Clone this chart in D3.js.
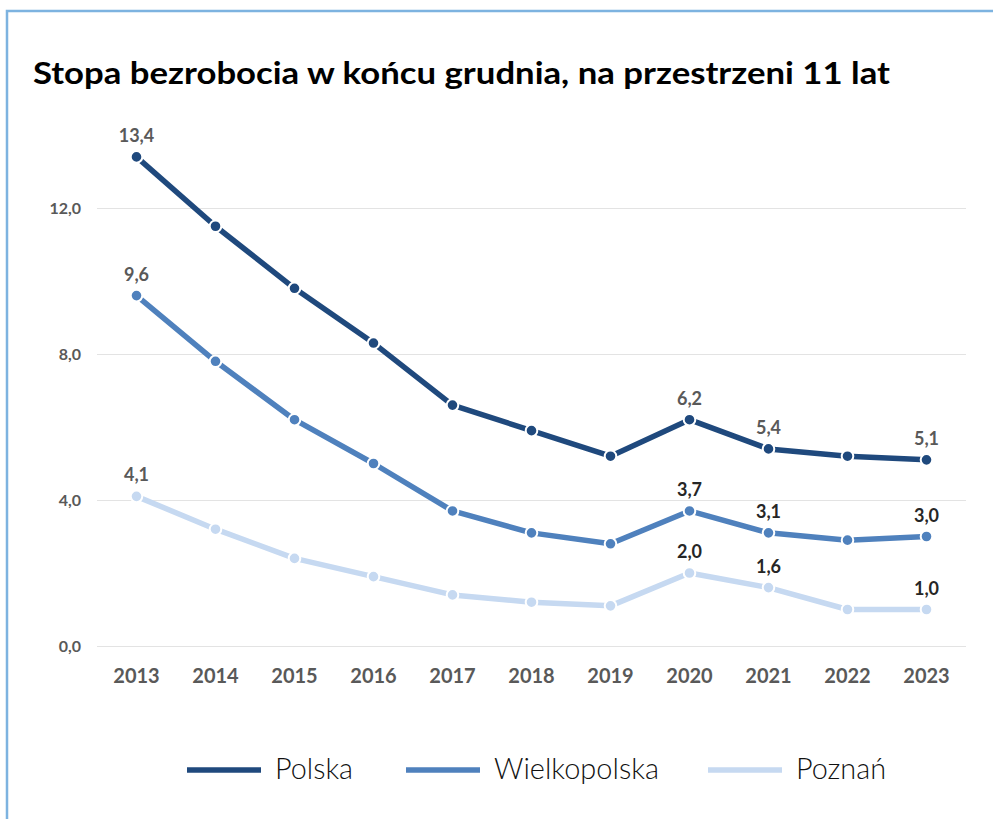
<!DOCTYPE html>
<html><head><meta charset="utf-8">
<script src="https://cdn.jsdelivr.net/npm/d3@7/dist/d3.min.js"></script>
<style>
html,body{margin:0;padding:0;background:#fff;}
svg{display:block;}
</style></head>
<body>
<svg id="c" width="993" height="819"></svg>
<script>
const years = ["2013","2014","2015","2016","2017","2018","2019","2020","2021","2022","2023"];
const polska = [13.4,11.5,9.8,8.3,6.6,5.9,5.2,6.2,5.4,5.2,5.1];
const wielkopolska = [9.6,7.8,6.2,5.0,3.7,3.1,2.8,3.7,3.1,2.9,3.0];
const poznan = [4.1,3.2,2.4,1.9,1.4,1.2,1.1,2.0,1.6,1.0,1.0];
const seriesNames = ["Polska","Wielkopolska","Poznań"];
const yTicks = [0,4,8,12];
const labelledYears = ["2013","2020","2021","2023"];

const colors = ["#1F497D","#4F81BD","#C6D9F1"];
const labelColors = [["#595959","#595959","#595959","#595959"],["#595959","#262626","#262626","#262626"],["#595959","#262626","#262626","#262626"]];
const font = "Lato, 'Open Sans', sans-serif";

const svg = d3.select("#c");
svg.append("path").attr("d","M7,819 L7,11 L993,11").attr("fill","none").attr("stroke","#7DB3E0").attr("stroke-width",2.5);

svg.append("text").attr("x",33).attr("y",84).attr("font-family",font).attr("font-weight",700)
  .attr("font-size",30).attr("fill","#000").text("Stopa bezrobocia w końcu grudnia, na przestrzeni 11 lat")
  .attr("textLength",857).attr("lengthAdjust","spacingAndGlyphs");

const x = d3.scaleBand().domain(years).range([97,966]);
const y = d3.scaleLinear().domain([0,12]).range([646,208]);

const gy = svg.append("g").attr("transform","translate(97,0)")
  .call(d3.axisLeft(y).tickValues(yTicks).tickSize(-869).tickFormat(d=>d3.format(".1f")(d).replace(".",",")));
gy.select(".domain").remove();
gy.selectAll(".tick line").attr("stroke","#E3E3E3").attr("stroke-width",1.2);
gy.selectAll(".tick text").attr("x",-16).attr("font-family",font).attr("font-weight",700).attr("font-size",16).attr("fill","#595959");

const gx = svg.append("g").attr("transform","translate(0,646)")
  .call(d3.axisBottom(x).tickSize(0));
gx.select(".domain").remove();
gx.selectAll(".tick text").attr("y",37).attr("dy",0).attr("font-family",font).attr("font-weight",700).attr("font-size",20).attr("fill","#595959");

const data = [polska,wielkopolska,poznan];
const line = d3.line().x((d,i)=>x(years[i])+x.bandwidth()/2).y(d=>y(d));
data.forEach((vals,si)=>{
  const g = svg.append("g");
  g.append("path").datum(vals).attr("d",line).attr("fill","none").attr("stroke",colors[si]).attr("stroke-width",5.5).attr("stroke-linejoin","round");
  g.selectAll("circle").data(vals).join("circle")
    .attr("cx",(d,i)=>x(years[i])+x.bandwidth()/2).attr("cy",d=>y(d)).attr("r",5.8)
    .attr("fill",colors[si]).attr("stroke","#fff").attr("stroke-width",2);
  let k=0;
  vals.forEach((v,i)=>{
    if(labelledYears.includes(years[i])){
      g.append("text").attr("x",x(years[i])+x.bandwidth()/2).attr("y",y(v)-15)
        .attr("text-anchor","middle").attr("font-family",font).attr("font-weight",700).attr("font-size",18)
        .attr("fill",labelColors[si][k]).text(d3.format(".1f")(v).replace(".",","));
      k++;
    }
  });
});

// legend
const legX = [187,406,708];
const legW = [78,165,90];
seriesNames.forEach((n,i)=>{
  svg.append("line").attr("x1",legX[i]).attr("x2",legX[i]+74).attr("y1",770).attr("y2",770)
    .attr("stroke",colors[i]).attr("stroke-width",5.5);
  svg.append("text").attr("x",legX[i]+88).attr("y",779).attr("font-family",font).attr("font-weight",300)
    .attr("font-size",29).attr("fill","#111").text(n)
    .attr("textLength",legW[i]).attr("lengthAdjust","spacingAndGlyphs");
});
</script>
</body></html>
